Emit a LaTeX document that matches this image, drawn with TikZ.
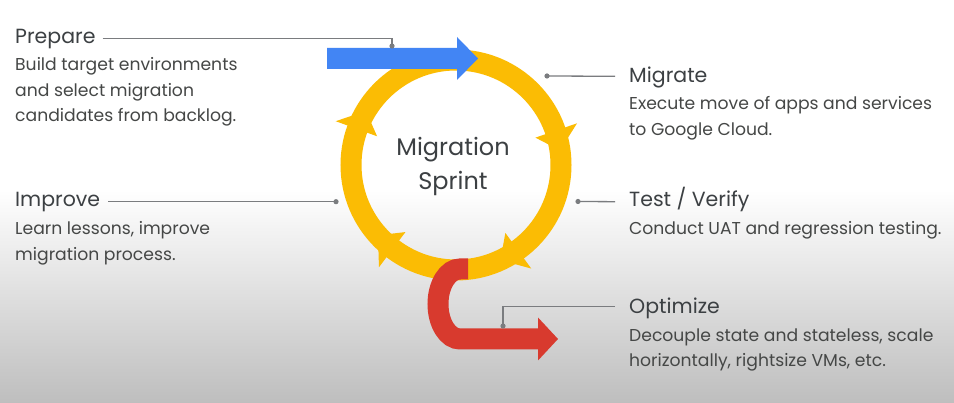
\documentclass[tikz,border=0pt]{standalone}
\usepackage{fontspec}
\setmainfont{Poppins}
\usetikzlibrary{calc}
\definecolor{SprintInk}{HTML}{3C4043}
\definecolor{SprintBody}{HTML}{454746}
\definecolor{SprintLead}{HTML}{7A7C7F}
\definecolor{SprintYellow}{HTML}{FBBC04}
\definecolor{SprintBlue}{HTML}{4285F4}
\definecolor{SprintRed}{HTML}{D83A2E}
\definecolor{SprintFloor}{RGB}{190,190,190}
\tikzset{
  every node/.style={text=SprintInk, inner sep=0pt},
  title/.style={font=\fontsize{20.5}{24}\selectfont, anchor=base west},
  body/.style={font=\fontsize{17.2}{25.3}\selectfont, text=SprintBody, anchor=base west},
  ring/.style={draw=SprintYellow, line width=21pt},
  leader/.style={draw=SprintLead, line width=1.3pt},
  dot/.style={fill=SprintLead},
}
\newcommand{\bodylines}[1]{\parbox[t]{330pt}{\raggedright #1}}

\begin{document}
\begin{tikzpicture}[x=1pt,y=1pt]
  % Page and floor shading
  \fill[white] (0,0) rectangle (954,403);
  \shade[top color=white, bottom color=SprintFloor] (0,0) rectangle (954,213);
  \useasboundingbox (0,0) rectangle (954,403);
  % Sprint loop
  \draw[ring] (456,238) circle (105);
  % Barbs on the loop (base angle / tip angle)
  \foreach \b/\t in {160/149, 19/8, 233/222, 306/295} {
    \fill[SprintYellow] ($(456,238)+(\b:84)$) -- ($(456,238)+(\b:128)$)
      -- ($(456,238)+(\t:105)$) -- cycle;
  }
  % Entry arrow
  \fill[SprintBlue] (327,334) -- (457,334) -- (457,323) -- (478,344.5)
    -- (457,366) -- (457,355) -- (327,355) -- cycle;
  % Exit arrow
  \draw[SprintRed, line width=21pt] (468,134) -- (460,134)
    arc[start angle=90, end angle=270, x radius=22, y radius=35] -- (538,64);
  \fill[SprintRed] (538,85.5) -- (558,64) -- (538,42.5) -- cycle;
  % Centre label
  \node[anchor=base, font=\fontsize{24}{34.3}\selectfont] (sprint) at (453,247.3)
    {\parbox[t]{150pt}{\centering Migration\\Sprint}};
  % Stage texts
  \node[title] (prepare) at (15,359.7) {Prepare};
  \node[body] (prepareTxt) at (15,332)
    {\bodylines{Build target environments\\and select migration\\candidates from backlog.}};
  \node[title] (improve) at (15,196.3) {Improve};
  \node[body] (improveTxt) at (15,168)
    {\bodylines{Learn lessons, improve\\migration process.}};
  \node[title] (migrate) at (629,320.7) {Migrate};
  \node[body] (migrateTxt) at (629,293)
    {\bodylines{Execute move of apps and services\\to Google Cloud.}};
  \node[title] (verify) at (629,196.3) {Test / Verify};
  \node[body] (verifyTxt) at (629,168)
    {\bodylines{Conduct UAT and regression testing.}};
  \node[title] (optimize) at (629,89.7) {Optimize};
  \node[body] (optimizeTxt) at (629,61.3)
    {\bodylines{Decouple state and stateless, scale\\horizontally, rightsize VMs, etc.}};
  % Leader ends on the loop
  \coordinate (prepareDot) at (392,357);
  \coordinate (improveDot) at (336,201.3);
  \coordinate (migrateDot) at (547,327);
  \coordinate (verifyDot) at (578,201.5);
  \coordinate (optimizeDot) at (503,77);
  % Leaders
  \draw[leader] ($(prepare.base east)+(7,5)$) -| (prepareDot);
  \draw[leader] ($(improve.base east)+(8,5)$) -- (improveDot);
  \draw[leader] ($(migrate.base west)+(-14,6)$) -- (migrateDot);
  \draw[leader] ($(verify.base west)+(-14,5)$) -- (verifyDot);
  \draw[leader] ($(optimize.base west)+(-14,7)$) -| (optimizeDot);
  \foreach \d in {prepareDot,improveDot,migrateDot,verifyDot,optimizeDot}
    \fill[dot] (\d) circle (2.6);
\end{tikzpicture}
\end{document}
